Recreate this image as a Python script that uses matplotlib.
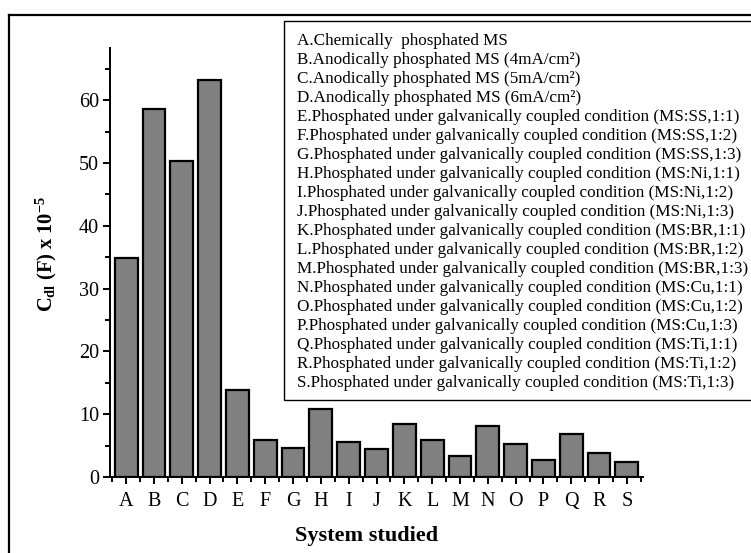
import numpy as np
import matplotlib
matplotlib.use('Agg')
from matplotlib import pyplot as plt
from matplotlib.patches import Rectangle
from matplotlib.lines import Line2D
from matplotlib.ticker import MultipleLocator, FixedLocator

plt.rcParams['font.family'] = ['Liberation Serif', 'DejaVu Serif']
plt.rcParams['mathtext.fontset'] = 'custom'
plt.rcParams['mathtext.rm'] = 'Liberation Serif'
plt.rcParams['mathtext.bf'] = 'Liberation Serif:bold'
plt.rcParams['mathtext.it'] = 'Liberation Serif:italic'

# Data
systems = list('ABCDEFGHIJKLMNOPQRS')
cdl = [34.9, 58.6, 50.3, 63.2, 13.8, 5.95, 4.6, 10.9, 5.6, 4.5,
       8.4, 5.85, 3.35, 8.1, 5.2, 2.7, 6.8, 3.9, 2.45]
descriptions = [
    'A.Chemically  phosphated MS',
    'B.Anodically phosphated MS (4mA/cm\u00b2)',
    'C.Anodically phosphated MS (5mA/cm\u00b2)',
    'D.Anodically phosphated MS (6mA/cm\u00b2)',
    'E.Phosphated under galvanically coupled condition (MS:SS,1:1)',
    'F.Phosphated under galvanically coupled condition (MS:SS,1:2)',
    'G.Phosphated under galvanically coupled condition (MS:SS,1:3)',
    'H.Phosphated under galvanically coupled condition (MS:Ni,1:1)',
    'I.Phosphated under galvanically coupled condition (MS:Ni,1:2)',
    'J.Phosphated under galvanically coupled condition (MS:Ni,1:3)',
    'K.Phosphated under galvanically coupled condition (MS:BR,1:1)',
    'L.Phosphated under galvanically coupled condition (MS:BR,1:2)',
    'M.Phosphated under galvanically coupled condition (MS:BR,1:3)',
    'N.Phosphated under galvanically coupled condition (MS:Cu,1:1)',
    'O.Phosphated under galvanically coupled condition (MS:Cu,1:2)',
    'P.Phosphated under galvanically coupled condition (MS:Cu,1:3)',
    'Q.Phosphated under galvanically coupled condition (MS:Ti,1:1)',
    'R.Phosphated under galvanically coupled condition (MS:Ti,1:2)',
    'S.Phosphated under galvanically coupled condition (MS:Ti,1:3)',
]

W, H = 751, 553
fig = plt.figure(figsize=(W / 100, H / 100), dpi=100)
ax = fig.add_axes([110 / W, 1 - 477 / H, (643 - 110) / W, (477 - 48) / H])

x = np.arange(len(systems))
ax.bar(x, cdl, width=0.82, color='#808080', edgecolor='black', linewidth=1.6, zorder=2)

ax.set_xlim(-0.58, len(systems) - 0.42)
ax.set_ylim(0, 68.3)
ax.spines['top'].set_visible(False)
ax.spines['right'].set_visible(False)
ax.spines['left'].set_linewidth(1.4)
ax.spines['bottom'].set_linewidth(1.4)

ax.set_xticks(x)
ax.set_xticklabels(systems)
ax.xaxis.set_minor_locator(FixedLocator(np.arange(-0.5, len(systems), 1.0)))
ax.yaxis.set_major_locator(MultipleLocator(10))
ax.yaxis.set_minor_locator(MultipleLocator(5))
ax.tick_params(axis='both', which='major', direction='out', length=5, width=1.4,
               labelsize=14.5, pad=3)
ax.tick_params(axis='both', which='minor', direction='out', length=3.5, width=1.4)
ax.tick_params(axis='x', which='major', pad=6)

ax.set_xlabel('System studied', fontsize=16, fontweight='bold')
ax.xaxis.set_label_coords(0.482, -0.115)
ax.set_ylabel(r'$\mathbf{C_{dl}\ (F)\ x\ 10^{-5}}$', fontsize=14.8)
ax.yaxis.set_label_coords(-0.096, 0.52)

# description box
fig.patches.append(Rectangle((284 / W, 1 - 400 / H), 480 / W, (400 - 21) / H,
                             transform=fig.transFigure, fill=False,
                             edgecolor='black', linewidth=1.0, clip_on=False))
fig.text(297 / W, 1 - 33 / H, '\n'.join(descriptions), fontsize=12.3,
         va='top', ha='left', linespacing=1.252)

# outer frame (cropped)
fig.add_artist(Line2D([9 / W, 1.0], [1 - 15 / H, 1 - 15 / H], transform=fig.transFigure,
                      color='black', linewidth=1.6))
fig.add_artist(Line2D([9 / W, 9 / W], [0, 1 - 15 / H], transform=fig.transFigure,
                      color='black', linewidth=1.6))

fig.savefig('out.png', dpi=100)
